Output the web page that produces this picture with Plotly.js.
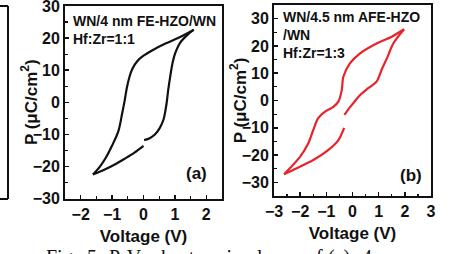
<!DOCTYPE html>
<html>
<head>
<meta charset="utf-8">
<script src="https://cdn.plot.ly/plotly-3.0.1.min.js"></script>
<style>html,body{margin:0;padding:0;background:#fff;}#chart{width:450px;height:254px;}</style>
</head>
<body>
<div id="chart"></div>
<script>
// ---- Panel (a): WN/4 nm FE-HZO/WN, Hf:Zr=1:1 ----
const aRightV = [0.02, 0.2, 0.37, 0.52, 0.64, 0.7, 0.74, 0.79, 0.85, 0.93, 1.01, 1.17, 1.38, 1.6];
const aRightP = [-11.8, -11.2, -10, -8, -5.3, -2.5, 0, 4, 8, 12.5, 15.3, 18.6, 20.8, 22.6];
const aUpperV = [1.6, 1.4, 1.1, 0.7, 0.3, 0.0, -0.2, -0.35, -0.45, -0.53, -0.6, -0.68, -0.8, -1.0, -1.2, -1.4, -1.61];
const aUpperP = [22.6, 21.5, 20, 18.3, 16.3, 14.5, 12.8, 10.5, 7.8, 4.5, 0.5, -3.5, -9, -13.5, -17.3, -20.2, -22.5];
const aLowerV = [-1.61, -1.2, -0.9, -0.6, -0.3, 0];
const aLowerP = [-22.5, -20.8, -19.3, -17.6, -15.8, -13.6];

// ---- Panel (b): WN/4.5 nm AFE-HZO/WN, Hf:Zr=1:3 ----
const bRightV = [-0.31, -0.18, 0.03, 0.29, 0.6, 0.92, 1.11, 1.34, 1.56, 1.97];
const bRightP = [-5.3, -3.5, -1, 2, 4.5, 6.9, 11.2, 16, 20.9, 26.1];
const bUpperV = [1.97, 1.5, 0.92, 0.29, -0.1, -0.35, -0.41, -0.54, -0.73, -1.05, -1.31, -1.5, -1.69, -2.0, -2.61];
const bUpperP = [26.1, 23.4, 20.9, 17.3, 13.6, 8.7, 3.8, -0.4, -2.3, -4.1, -6.5, -10.8, -15.7, -20.6, -27.0];
const bLowerV = [-2.61, -2.13, -1.5, -0.92, -0.54, -0.32];
const bLowerP = [-27.0, -24.8, -21.8, -18.1, -14.5, -10.0];

// ---- tick labels ----
const aXTicks = [-2, -1, 0, 1, 2];
const aYTicks = [-30, -20, -10, 0, 10, 20, 30];
const bXTicks = [-3, -2, -1, 0, 1, 2, 3];
const bYTicks = [-30, -20, -10, 0, 10, 20, 30];

const W = 450, H = 254;
const PX = p => p / W;
const PY = p => 1 - p / H;
const FONT = "Liberation Sans, Arial, Helvetica, sans-serif";
const SERIF = "Liberation Serif, Times New Roman, serif";

function loop(v, p, color, xa, ya) {
  return {x: v, y: p, type: 'scatter', mode: 'lines', xaxis: xa, yaxis: ya,
          line: {color: color, width: 2.2, shape: 'spline', smoothing: 0.9},
          hoverinfo: 'skip', showlegend: false};
}
const BLACK = '#111111', RED = '#e8232b';
const data = [
  loop(aRightV, aRightP, BLACK, 'x', 'y'),
  loop(aUpperV, aUpperP, BLACK, 'x', 'y'),
  loop(aLowerV, aLowerP, BLACK, 'x', 'y'),
  loop(bRightV, bRightP, RED, 'x2', 'y2'),
  loop(bUpperV, bUpperP, RED, 'x2', 'y2'),
  loop(bLowerV, bLowerP, RED, 'x2', 'y2'),
  // empty placeholder traces so the title-only overlay axes are drawn
  {x: [], y: [], type: 'scatter', mode: 'lines', xaxis: 'x', yaxis: 'y3', showlegend: false, hoverinfo: 'skip'},
  {x: [], y: [], type: 'scatter', mode: 'lines', xaxis: 'x2', yaxis: 'y4', showlegend: false, hoverinfo: 'skip'}
];

const tickFont = {family: FONT, size: 16, color: '#111', weight: 'bold'};
const titleFont = {family: FONT, size: 17, color: '#111', weight: 'bold'};
function axis(extra) {
  return Object.assign({
    showgrid: false, zeroline: false, showline: true, linewidth: 2, linecolor: '#111',
    mirror: true, ticks: 'inside', ticklen: 4, tickwidth: 1.5, tickcolor: '#111',
    tickfont: tickFont, fixedrange: true, ticklabeloverflow: 'allow', automargin: false
  }, extra);
}
// title-only overlay axis (no ticks, no labels) so the title can sit close to the tick labels
function titleAxis(over, anchor, range, text, standoff) {
  return {overlaying: over, anchor: anchor, side: 'left', range: range,
          showgrid: false, zeroline: false, showline: false, ticks: '', showticklabels: false,
          fixedrange: true, automargin: false,
          title: {text: text, font: titleFont, standoff: standoff}};
}
const minorX = {dtick: 0.5, tick0: 0, ticks: 'inside', ticklen: 2.5, tickwidth: 1.2, tickcolor: '#111'};
const minorY = {dtick: 5, tick0: 0, ticks: 'inside', ticklen: 2.5, tickwidth: 1.2, tickcolor: '#111'};
const yTitle = 'P (\u03bcC/cm<sup>2</sup>)';

const layout = {
  width: W, height: H,
  margin: {l: 0, r: 0, t: 0, b: 0},
  paper_bgcolor: '#fff', plot_bgcolor: '#fff',
  showlegend: false,
  xaxis: axis({domain: [PX(65), PX(222)], range: [-2.5, 2.5], tickvals: aXTicks, anchor: 'y', minor: minorX,
               title: {text: 'Voltage (V)', font: titleFont, standoff: 8}}),
  yaxis: axis({domain: [PY(198.5), PY(6)], range: [-30, 30], tickvals: aYTicks, anchor: 'x', minor: minorY}),
  xaxis2: axis({domain: [PX(274), PX(431)], range: [-3, 3], tickvals: bXTicks, anchor: 'y2', minor: minorX,
               title: {text: 'Voltage (V)', font: titleFont, standoff: 8}}),
  yaxis2: axis({domain: [PY(196), PY(5)], range: [-35, 35], tickvals: bYTicks, anchor: 'x2', minor: minorY}),
  yaxis3: titleAxis('y', 'x', [-30, 30], yTitle, 22),
  yaxis4: titleAxis('y2', 'x2', [-35, 35], yTitle, 22),
  shapes: [
    {type: 'line', xref: 'paper', yref: 'paper', x0: PX(8), x1: PX(8), y0: PY(199), y1: PY(6), line: {color: '#111', width: 2}},
    {type: 'line', xref: 'paper', yref: 'paper', x0: 0, x1: PX(8), y0: PY(6), y1: PY(6), line: {color: '#111', width: 2}},
    {type: 'line', xref: 'paper', yref: 'paper', x0: 0, x1: PX(8), y0: PY(199), y1: PY(199), line: {color: '#111', width: 2}}
  ],
  annotations: []
};

function ann(text, x, y, opts) {
  layout.annotations.push(Object.assign({
    text: text, xref: 'paper', yref: 'paper', x: PX(x), y: PY(y), showarrow: false,
    font: {family: FONT, size: 17, color: '#111', weight: 'bold'}
  }, opts || {}));
}
// in-panel labels
ann('WN/4 nm FE-HZO/WN<br>Hf:Zr=1:1', 71, 11, {xanchor: 'left', yanchor: 'top', align: 'left',
    font: {family: FONT, size: 14, color: '#111', weight: 'bold'}});
ann('WN/4.5 nm AFE-HZO<br>/WN<br>Hf:Zr=1:3', 281, 7, {xanchor: 'left', yanchor: 'top', align: 'left',
    font: {family: FONT, size: 14, color: '#111', weight: 'bold'}});
ann('(a)', 196, 173, {xanchor: 'center', yanchor: 'middle'});
ann('(b)', 411, 175, {xanchor: 'center', yanchor: 'middle'});
// partially visible caption below (cut by the image edge)
const capWords = ['Fig.', '5.', 'P-V', 'hysteresis', 'loops', 'of', '(a)', '4'];
const capX = [45, 86, 108, 160, 256, 305, 327, 361];
capWords.forEach((w, i) => ann(w, capX[i], 245, {xanchor: 'left', yanchor: 'top', borderpad: 0,
    font: {family: SERIF, size: 20, color: '#111'}}));

Plotly.newPlot('chart', data, layout, {displayModeBar: false, staticPlot: true});
</script>
</body>
</html>
